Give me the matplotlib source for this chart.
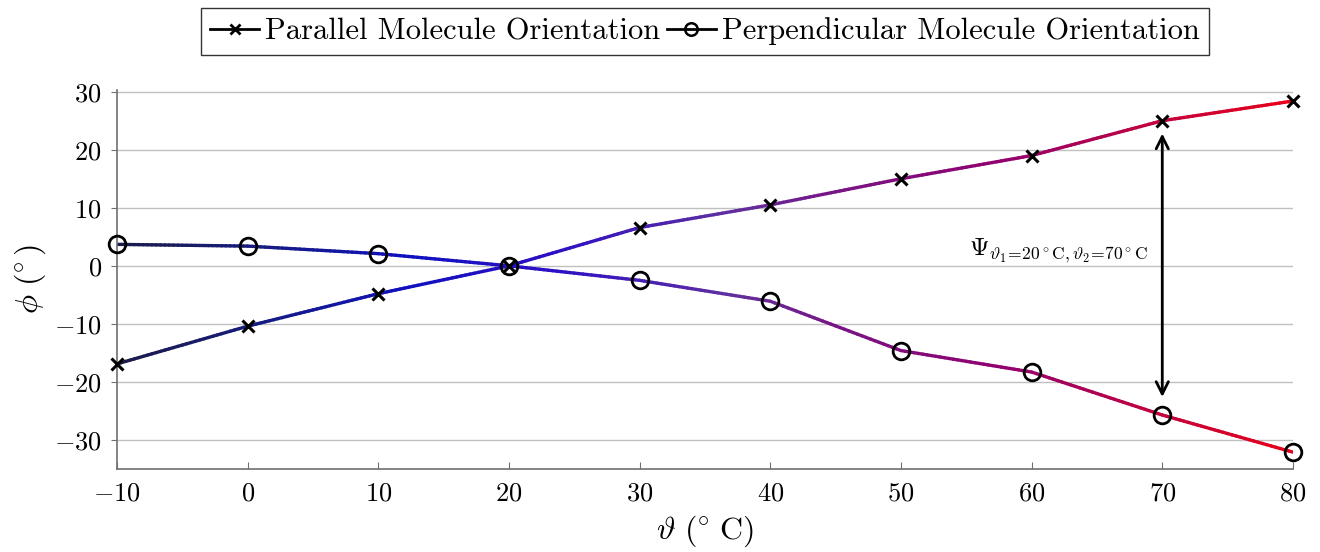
import numpy as np
import matplotlib.pyplot as plt
from matplotlib.collections import LineCollection
from matplotlib.colors import LinearSegmentedColormap
from matplotlib.lines import Line2D

plt.rcParams['font.family'] = 'serif'
plt.rcParams['font.serif'] = ['cmr10']
plt.rcParams['mathtext.fontset'] = 'cm'
plt.rcParams['axes.formatter.use_mathtext'] = True

temps = [-10, 0, 10, 20, 30, 40, 50, 60, 70, 80]
parallel = [-16.9, -10.4, -4.8, 0.0, 6.6, 10.5, 15.0, 19.0, 25.0, 28.4]
perpendicular = [3.7, 3.4, 2.1, 0.0, -2.5, -6.1, -14.6, -18.3, -25.7, -32.1]

cmap = LinearSegmentedColormap.from_list('temp', [
    (0.0, '#1c1c48'), (0.12, '#161c80'), (0.25, '#1010c0'), (0.38, '#3010c4'),
    (0.52, '#6030a0'), (0.62, '#7a1484'), (0.75, '#900070'), (0.88, '#c00040'),
    (1.0, '#e8001a')])


def gradient_line(ax, x, y):
    # split each segment into small pieces, coloured by temperature
    xs, ys = [], []
    for i in range(len(x) - 1):
        t = np.linspace(0, 1, 30, endpoint=False)
        xs.extend(x[i] + (x[i + 1] - x[i]) * t)
        ys.extend(y[i] + (y[i + 1] - y[i]) * t)
    xs.append(x[-1])
    ys.append(y[-1])
    xs, ys = np.array(xs), np.array(ys)
    pts = np.column_stack([xs, ys]).reshape(-1, 1, 2)
    segs = np.concatenate([pts[:-1], pts[1:]], axis=1)
    mid = (xs[:-1] + xs[1:]) / 2
    lc = LineCollection(segs, cmap=cmap, norm=plt.Normalize(-10, 80),
                        linewidth=2.4, capstyle='round', zorder=2)
    lc.set_array(mid)
    ax.add_collection(lc)


fig = plt.figure(figsize=(13.2, 5.52), dpi=100)
ax = fig.add_axes([0.0886, 0.1504, 0.8909, 0.6866])

gradient_line(ax, temps, parallel)
gradient_line(ax, temps, perpendicular)
ax.plot(temps, parallel, 'x', color='black', ms=8, mew=2.2, zorder=3, clip_on=False)
ax.plot(temps, perpendicular, 'o', color='black', mfc='none', ms=12, mew=2, zorder=3, clip_on=False)

ax.annotate('', xy=(70, 22.8), xytext=(70, -22.6),
            arrowprops=dict(arrowstyle='<->', color='black', lw=2, mutation_scale=22,
                            shrinkA=0, shrinkB=0))
ax.text(68.9, 2.6, r'$\Psi_{\vartheta_1\!=\!20^\circ\mathrm{C},\vartheta_2\!=\!70^\circ\mathrm{C}}$',
        fontsize=18, ha='right', va='center')

ax.set_xlim(-10, 80)
ax.set_ylim(-35, 30.3)
ax.set_xticks(temps)
ax.set_yticks([-30, -20, -10, 0, 10, 20, 30])
ax.grid(axis='y', color='#c0c0c0', lw=1)
ax.set_axisbelow(True)
for s in ['top', 'right']:
    ax.spines[s].set_visible(False)
for s in ['left', 'bottom']:
    ax.spines[s].set_color('#707070')
    ax.spines[s].set_linewidth(1.2)
ax.tick_params(axis='x', direction='in', length=5, color='#707070', labelsize=19, pad=9)
ax.tick_params(axis='y', direction='out', length=4, color='#707070', labelsize=19, pad=7)

ax.set_xlabel(r'$\vartheta\ (\!^\circ\,\mathrm{C})$', fontsize=23, labelpad=6)
ax.set_ylabel(r'$\phi\ (\!^\circ)$', fontsize=23, labelpad=4)

handles = [Line2D([], [], color='black', lw=2, marker='x', ms=7, mew=2),
           Line2D([], [], color='black', lw=2, marker='o', mfc='none', ms=9, mew=1.8)]
leg = ax.legend(handles, ['Parallel Molecule Orientation', 'Perpendicular Molecule Orientation'],
                loc='upper center', bbox_to_anchor=(0.534, 0.985), bbox_transform=fig.transFigure,
                ncol=2, fontsize=22, frameon=True, fancybox=False, edgecolor='black',
                handlelength=1.6, handletextpad=0.2, columnspacing=0.2, borderpad=0.3,
                borderaxespad=0)
leg.get_frame().set_linewidth(1)

fig.savefig('out.png', dpi=100)
